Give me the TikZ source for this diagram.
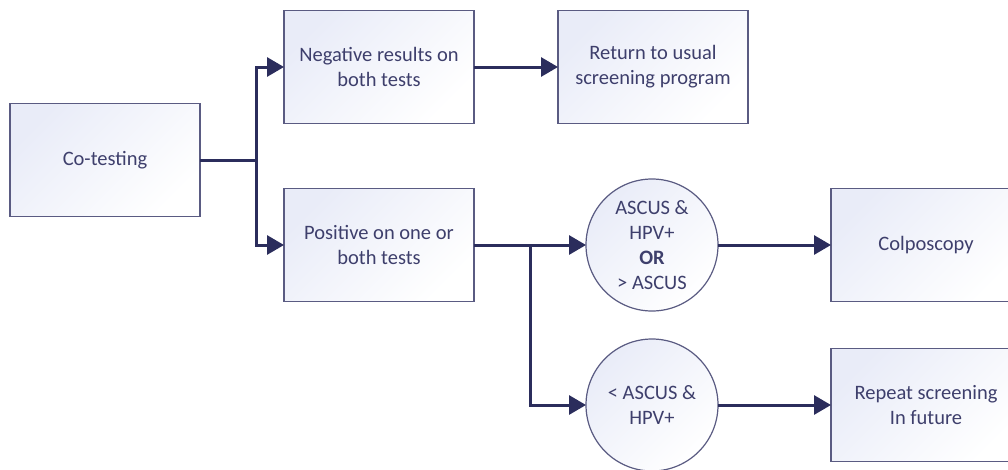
\documentclass[tikz,border=0pt]{standalone}
\usepackage{fontspec}
\setmainfont{Carlito}
\usepackage{xcolor}
\usetikzlibrary{shapes.geometric, arrows.meta, positioning}
\definecolor{linenavy}{HTML}{2B2D5C}
\definecolor{edgegray}{HTML}{5A5B82}
\definecolor{fillblue}{HTML}{E9ECF8}
\definecolor{textnavy}{HTML}{3E3F6C}

\begin{document}
\begin{tikzpicture}[x=1pt, y=-1pt,
  block/.style={rectangle, draw=edgegray, line width=1.2pt, top color=fillblue, bottom color=white, shading angle=45, align=center, minimum width=190pt, minimum height=113pt, inner sep=0pt, outer sep=0pt, text=textnavy, font=\fontsize{20.5}{25}\selectfont},
  cond/.style={circle, draw=edgegray, line width=1.2pt, top color=fillblue, bottom color=white, shading angle=45, align=center, minimum size=132pt, inner sep=0pt, outer sep=0pt, text=textnavy, font=\fontsize{20.5}{25}\selectfont},
  arr/.style={-{Triangle[length=17pt,width=19pt]}, line width=3pt, draw=linenavy}
]
\useasboundingbox (0,0) rectangle (1008,469);
\clip (0,0) rectangle (1008,469);

\node[block] (cotest) at (105,160) {Co-testing};
\node[block, right=84pt of cotest, yshift=93pt] (neg) {Negative results on\\both tests};
\node[block, right=84pt of neg] (usual) {Return to usual\\screening program};
\node[block, right=84pt of cotest, yshift=-85pt] (pos) {Positive on one or\\both tests};
\node[cond, right=112pt of pos] (high) {ASCUS \&\\HPV+\\\textbf{OR}\\> ASCUS};
\node[cond, below=28pt of high] (low) {< ASCUS \&\\HPV+};
\node[block, right=113pt of high] (colpo) {Colposcopy};
\node[block, right=113pt of low] (repeat) {Repeat screening\\In future};

\draw[arr] (cotest.east) -- ++(56,0) |- (neg.west);
\draw[arr] (cotest.east) -- ++(56,0) |- (pos.west);
\draw[arr] (neg) -- (usual);
\draw[arr] (pos) -- (high);
\draw[arr] (pos.east) -- ++(56,0) |- (low.west);
\draw[arr] (high) -- (colpo);
\draw[arr] (low) -- (repeat);
\end{tikzpicture}
\end{document}
